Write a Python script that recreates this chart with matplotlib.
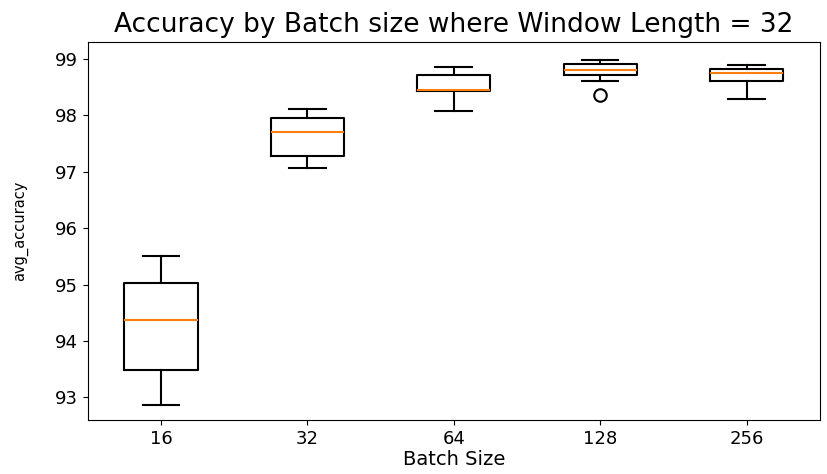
import matplotlib
matplotlib.use("Agg")
import matplotlib.pyplot as plt

# batch sizes on the x axis
batch_sizes = ["16", "32", "64", "128", "256"]

# per batch size: whisker low, Q1, median, Q3, whisker high, outliers
whislo = [92.86, 97.07, 98.08, 98.61, 98.30]
q1 = [93.49, 97.29, 98.43, 98.72, 98.61]
med = [94.37, 97.71, 98.45, 98.80, 98.76]
q3 = [95.03, 97.96, 98.71, 98.91, 98.82]
whishi = [95.50, 98.12, 98.86, 98.98, 98.89]
fliers = [[], [], [], [98.37], []]

stats = []
for i, name in enumerate(batch_sizes):
    stats.append({
        "label": name,
        "whislo": whislo[i],
        "q1": q1[i],
        "med": med[i],
        "q3": q3[i],
        "whishi": whishi[i],
        "fliers": fliers[i],
    })

fig = plt.figure(figsize=(8.28, 4.74), dpi=100)
ax = fig.add_axes([0.106, 0.114, 0.884, 0.797])
ax.bxp(stats, showfliers=True,
       boxprops=dict(linewidth=1.5),
       whiskerprops=dict(linewidth=1.5),
       capprops=dict(linewidth=1.5),
       medianprops=dict(linewidth=1.5),
       flierprops=dict(marker="o", markerfacecolor="none", markeredgecolor="black",
                       markersize=9, markeredgewidth=1.5))
ax.set_title("Accuracy by Batch size where Window Length = 32", fontsize=19, pad=7)
ax.set_xlabel("Batch Size", fontsize=14, labelpad=2)
ax.set_ylabel("avg_accuracy", fontsize=10.5)
ax.yaxis.set_label_coords(-0.082, 0.5)
ax.tick_params(labelsize=13)
ax.set_ylim(92.6, 99.3)

fig.savefig("out.png", dpi=100)
